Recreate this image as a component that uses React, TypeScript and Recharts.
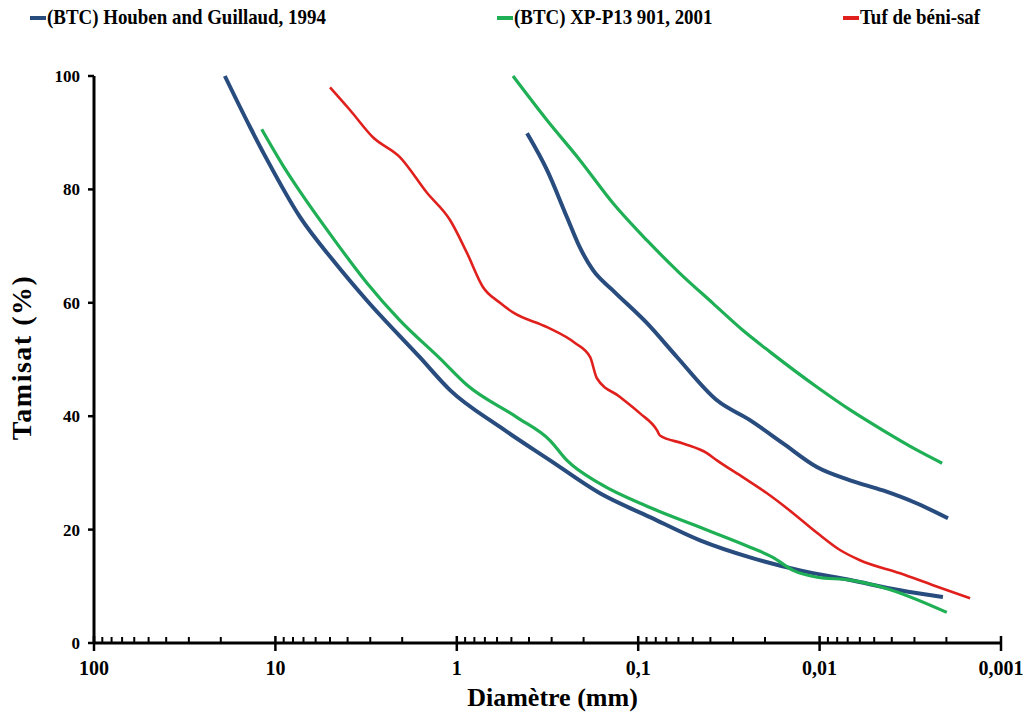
import React from 'react';
import { LineChart, Line, XAxis, YAxis, Legend, Label } from 'recharts';

// ---- data (diameter in mm, passing %) ----
const houbenLowD = [19.0, 13.8, 11.1, 7.31, 4.81, 3.13, 1.6, 1.09, 0.578, 0.306, 0.1625, 0.0861, 0.0456, 0.0242, 0.0128, 0.00679, 0.0036, 0.00209];
const houbenLowV = [100, 91.0, 85.2, 75.1, 67.5, 60.4, 50.4, 44.6, 38.1, 32.2, 26.4, 22.2, 18.1, 15.1, 12.8, 11.1, 9.3, 8.1];

const houbenHighD = [0.41, 0.318, 0.247, 0.21, 0.177, 0.138, 0.0894, 0.061, 0.0368, 0.0242, 0.0159, 0.0103, 0.00679, 0.00447, 0.0029, 0.00196];
const houbenHighV = [89.9, 83.4, 75.1, 69.8, 65.7, 62.2, 56.4, 50.4, 42.8, 39.3, 35.2, 31.0, 28.7, 26.9, 24.6, 22.0];

const xpLowD = [11.9, 9.08, 7.31, 4.81, 3.13, 2.06, 1.24, 0.879, 0.466, 0.306, 0.247, 0.1625, 0.0861, 0.0456, 0.0242, 0.0181, 0.014, 0.0103, 0.00679, 0.00447, 0.00199];
const xpLowV = [90.6, 84.2, 79.6, 71.4, 63.5, 56.9, 50.2, 45.5, 39.8, 35.7, 32.2, 28.1, 23.9, 20.4, 16.9, 15.1, 12.8, 11.6, 11.1, 9.8, 5.4];

const xpHighD = [0.49, 0.318, 0.21, 0.138, 0.0894, 0.0589, 0.0387, 0.0264, 0.0187, 0.0103, 0.00679, 0.00447, 0.0029, 0.00211];
const xpHighV = [100, 92.2, 85.2, 77.6, 71.0, 65.2, 59.9, 55.1, 51.3, 45.1, 41.1, 37.5, 34.0, 31.7];

const tufD = [5.0, 3.88, 2.9, 2.06, 1.46, 1.09, 0.879, 0.718, 0.578, 0.49, 0.318, 0.223, 0.184, 0.169, 0.126, 0.0977, 0.0787, 0.0759, 0.0566, 0.0418, 0.0368, 0.0264, 0.0195, 0.014, 0.0103, 0.00772, 0.00599, 0.0036, 0.00237, 0.00148];
const tufV = [98.0, 94.0, 89.2, 85.7, 79.4, 74.6, 68.8, 62.8, 60.0, 58.3, 55.7, 52.9, 50.4, 46.7, 43.4, 40.5, 37.5, 36.6, 35.2, 33.5, 32.2, 29.2, 26.4, 22.9, 19.4, 16.4, 14.6, 12.3, 10.2, 7.9];

const seriesNames = ['(BTC) Houben and Guillaud, 1994', '(BTC) XP-P13 901, 2001', 'Tuf de béni-saf'];
const seriesColors = ['#284C7E', '#1FAF55', '#E0201C'];

const xMajorTicks = [100, 10, 1, 0.1, 0.01, 0.001];
const xMajorLabels = ['100', '10', '1', '0,1', '0,01', '0,001'];
const yTicks = [0, 20, 40, 60, 80, 100];

const xMinorTicks: number[] = [];
for (let k = -3; k <= 1; k++) {
  for (let m = 2; m <= 9; m++) {
    xMinorTicks.push(k >= 0 ? m * Math.pow(10, k) : m / Math.pow(10, -k));
  }
}
const allXTicks = [...xMajorTicks, ...xMinorTicks];

const toPts = (d: number[], v: number[]) => d.map((x, i) => ({ d: x, v: v[i] }));
const houbenLow = toPts(houbenLowD, houbenLowV);
const houbenHigh = toPts(houbenHighD, houbenHighV);
const xpLow = toPts(xpLowD, xpLowV);
const xpHigh = toPts(xpHighD, xpHighV);
const tuf = toPts(tufD, tufV);

const FONT = '"Liberation Serif", "Times New Roman", serif';

const XTick = (props: any) => {
  const { x, y, payload } = props;
  const val = payload.value;
  const idx = xMajorTicks.findIndex((t) => Math.abs(Math.log10(t) - Math.log10(val)) < 1e-6);
  if (idx >= 0) {
    return (
      <g>
        <line x1={x} x2={x} y1={y - 7} y2={y + 8} stroke="#000" strokeWidth={2.5} />
        <text x={x} y={y + 32} textAnchor="middle" fontFamily={FONT} fontWeight="bold" fontSize={20} fill="#000">
          {xMajorLabels[idx]}
        </text>
      </g>
    );
  }
  return <line x1={x} x2={x} y1={y - 6} y2={y} stroke="#000" strokeWidth={2} />;
};

const LegendContent = () => {
  const lefts = [30, 497, 843];
  return (
    <div style={{ position: 'relative', width: 1030, height: 40 }}>
      {seriesNames.map((n, i) => (
        <div key={n} style={{ position: 'absolute', left: lefts[i], top: 5, display: 'flex', alignItems: 'center', whiteSpace: 'nowrap' }}>
          <span style={{ display: 'inline-block', width: 16, height: 4, background: seriesColors[i], marginRight: 1 }} />
          <span style={{ fontFamily: FONT, fontWeight: 'bold', fontSize: 21, color: '#000', display: 'inline-block', transform: 'scaleX(0.9)', transformOrigin: 'left center' }}>{n}</span>
        </div>
      ))}
    </div>
  );
};

export default function App() {
  return (
    <div style={{ position: 'absolute', left: 0, top: 0, width: 1030, height: 720, background: '#fff' }}>
      <LineChart width={1030} height={720} margin={{ top: 36, right: 29, bottom: 27, left: 54 }}>
        <Legend verticalAlign="top" align="left" content={<LegendContent />} wrapperStyle={{ top: 0, left: 0 }} />
        <XAxis
          type="number"
          dataKey="d"
          scale="log"
          domain={[0.001, 100]}
          reversed
          allowDataOverflow
          ticks={allXTicks}
          interval={0}
          tick={<XTick />}
          tickLine={false}
          tickSize={0}
          tickMargin={0}
          height={50}
          axisLine={{ stroke: '#000', strokeWidth: 3 }}
        >
          <Label
            content={(p: any) => {
              const vb = p.viewBox;
              return (
                <text x={vb.x + vb.width / 2 + 5} y={vb.y + 63} textAnchor="middle" fontFamily={FONT} fontWeight="bold" fontSize={26} fill="#000">
                  Diamètre (mm)
                </text>
              );
            }}
          />
        </XAxis>
        <YAxis
          type="number"
          domain={[0, 100]}
          ticks={yTicks}
          interval={0}
          width={40}
          tickSize={6}
          tickMargin={8}
          tickLine={{ stroke: '#000', strokeWidth: 2.5 }}
          axisLine={{ stroke: '#000', strokeWidth: 3 }}
          tick={{ fontFamily: FONT, fontWeight: 'bold', fontSize: 17, fill: '#000' }}
        >
          <Label
            content={(p: any) => {
              const vb = p.viewBox;
              const cx = 25;
              const cy = vb.y + vb.height / 2 - 2;
              return (
                <text x={cx} y={cy} transform={`rotate(-90 ${cx} ${cy})`} textAnchor="middle" dominantBaseline="middle" fontFamily={FONT} fontWeight="bold" fontSize={28} letterSpacing={1.5} fill="#000">
                  Tamisat  (%)
                </text>
              );
            }}
          />
        </YAxis>
        <Line data={houbenLow} dataKey="v" type="monotone" stroke={seriesColors[0]} strokeWidth={4} dot={false} isAnimationActive={false} name={seriesNames[0]} />
        <Line data={houbenHigh} dataKey="v" type="monotone" stroke={seriesColors[0]} strokeWidth={4} dot={false} isAnimationActive={false} legendType="none" />
        <Line data={xpLow} dataKey="v" type="monotone" stroke={seriesColors[1]} strokeWidth={3.2} dot={false} isAnimationActive={false} name={seriesNames[1]} />
        <Line data={xpHigh} dataKey="v" type="monotone" stroke={seriesColors[1]} strokeWidth={3.2} dot={false} isAnimationActive={false} legendType="none" />
        <Line data={tuf} dataKey="v" type="monotone" stroke={seriesColors[2]} strokeWidth={2.6} dot={false} isAnimationActive={false} name={seriesNames[2]} />
      </LineChart>
    </div>
  );
}
